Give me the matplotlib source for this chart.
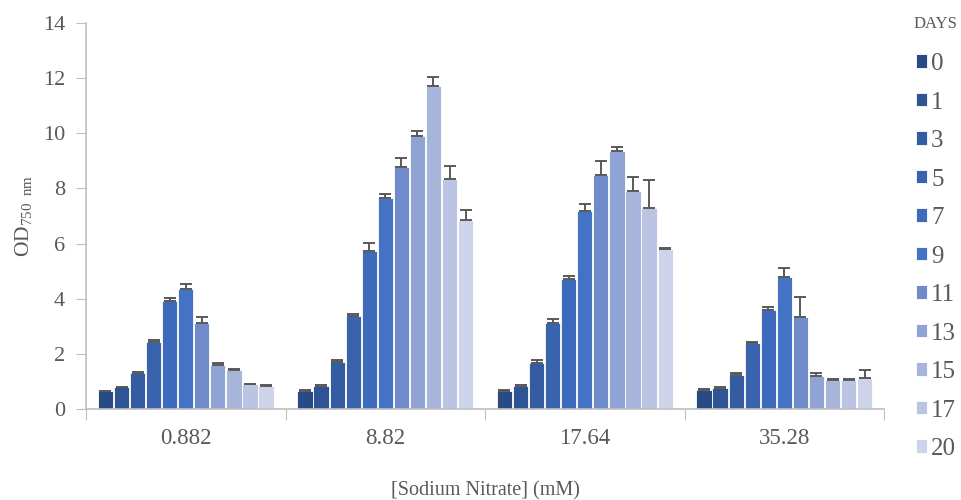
import numpy as np
import matplotlib.pyplot as plt

# ── Dados ─────────────────────────────────────────────────────────────────────
grupos = ['0.882', '8.82', '17.64', '35.28']
dias = ['0', '1', '3', '5', '7', '9', '11', '13', '15', '17', '20']

# OD750 por dia (linhas) para cada concentração (colunas)
od = {
    '0.882': [0.64, 0.78, 1.32, 2.42, 3.90, 4.36, 3.13, 1.58, 1.40, 0.89, 0.83],
    '8.82':  [0.66, 0.84, 1.72, 3.37, 5.72, 7.64, 8.76, 9.90, 11.71, 8.34, 6.87],
    '17.64': [0.67, 0.83, 1.66, 3.13, 4.72, 7.17, 8.48, 9.37, 7.91, 7.28, 5.81],
    '35.28': [0.70, 0.76, 1.24, 2.39, 3.59, 4.78, 3.33, 1.20, 1.04, 1.04, 1.14],
}
erro = {
    '0.882': [0.03, 0.03, 0.04, 0.07, 0.12, 0.17, 0.19, 0.10, 0.04, 0.03, 0.03],
    '8.82':  [0.03, 0.04, 0.04, 0.08, 0.30, 0.17, 0.35, 0.20, 0.34, 0.46, 0.34],
    '17.64': [0.03, 0.04, 0.11, 0.15, 0.11, 0.28, 0.52, 0.14, 0.51, 1.02, 0.03],
    '35.28': [0.03, 0.03, 0.06, 0.05, 0.10, 0.33, 0.74, 0.10, 0.03, 0.03, 0.29],
}

cores = ['#2A4A85', '#2E5494', '#335CA2', '#3A63AE', '#3E6ABB', '#4472C4',
         '#6F8BCA', '#8FA4D4', '#A7B5DB', '#BBC4E2', '#CDD3E9']

# ── Plot ──────────────────────────────────────────────────────────────────────
plt.rcParams['font.family'] = ['Liberation Serif', 'DejaVu Serif']

fig = plt.figure(figsize=(9.62, 5.0), dpi=100, facecolor='white')
ax = fig.add_axes([0.0894, 0.182, 0.8296, 0.772])

n = len(dias)
slot = 0.0805
larg = 0.076
x0 = np.arange(len(grupos)) + 0.5

for i, d in enumerate(dias):
    vals = [od[g][i] for g in grupos]
    errs = [erro[g][i] for g in grupos]
    xs = x0 + (i - (n - 1) / 2) * slot
    ax.bar(xs, vals, width=larg, color=cores[i], edgecolor='white',
           linewidth=0.6, label=d, zorder=2)
    ax.errorbar(xs, vals, yerr=[np.zeros(len(vals)), errs], fmt='none',
                ecolor='#595959', elinewidth=1.4, capsize=4, capthick=1.4,
                zorder=3)

ax.set_xlim(0, len(grupos))
ax.set_ylim(0, 14)
ax.set_yticks(np.arange(0, 15, 2))
ax.set_xticks(np.arange(len(grupos) + 1))
ax.set_xticklabels([])
ax.set_xticks(x0, minor=True)
ax.set_xticklabels(grupos, minor=True)
ax.tick_params(axis='x', which='minor', length=0, pad=14,
               labelsize=16.5, labelcolor='#595959')
ax.tick_params(axis='x', which='major', length=8, color='#BFBFBF',
               direction='out')
ax.tick_params(axis='y', length=7, color='#BFBFBF', labelsize=16,
               labelcolor='#595959', pad=8)

for s in ['top', 'right']:
    ax.spines[s].set_visible(False)
for s in ['left', 'bottom']:
    ax.spines[s].set_color('#BFBFBF')
    ax.spines[s].set_linewidth(1.2)

ax.set_ylabel(r'OD$_{\mathregular{750\ \,nm}}$', fontsize=15.5, color='#595959',
              labelpad=6)
ax.set_xlabel('[Sodium Nitrate] (mM)', fontsize=14.5, color='#595959',
              labelpad=23)

# legenda à direita com título separado
fig.text(0.972, 0.953, 'DAYS', fontsize=12, color='#595959',
         ha='center', va='center')
leg = ax.legend(loc='upper left', bbox_to_anchor=(1.04, 0.922), frameon=False,
                fontsize=18, handlelength=0.45, handleheight=0.45,
                handletextpad=0.15, labelspacing=0.66, borderaxespad=0,
                borderpad=0)
for t in leg.get_texts():
    t.set_color('#595959')

plt.savefig('out.png', dpi=100, facecolor='white')
plt.close()
